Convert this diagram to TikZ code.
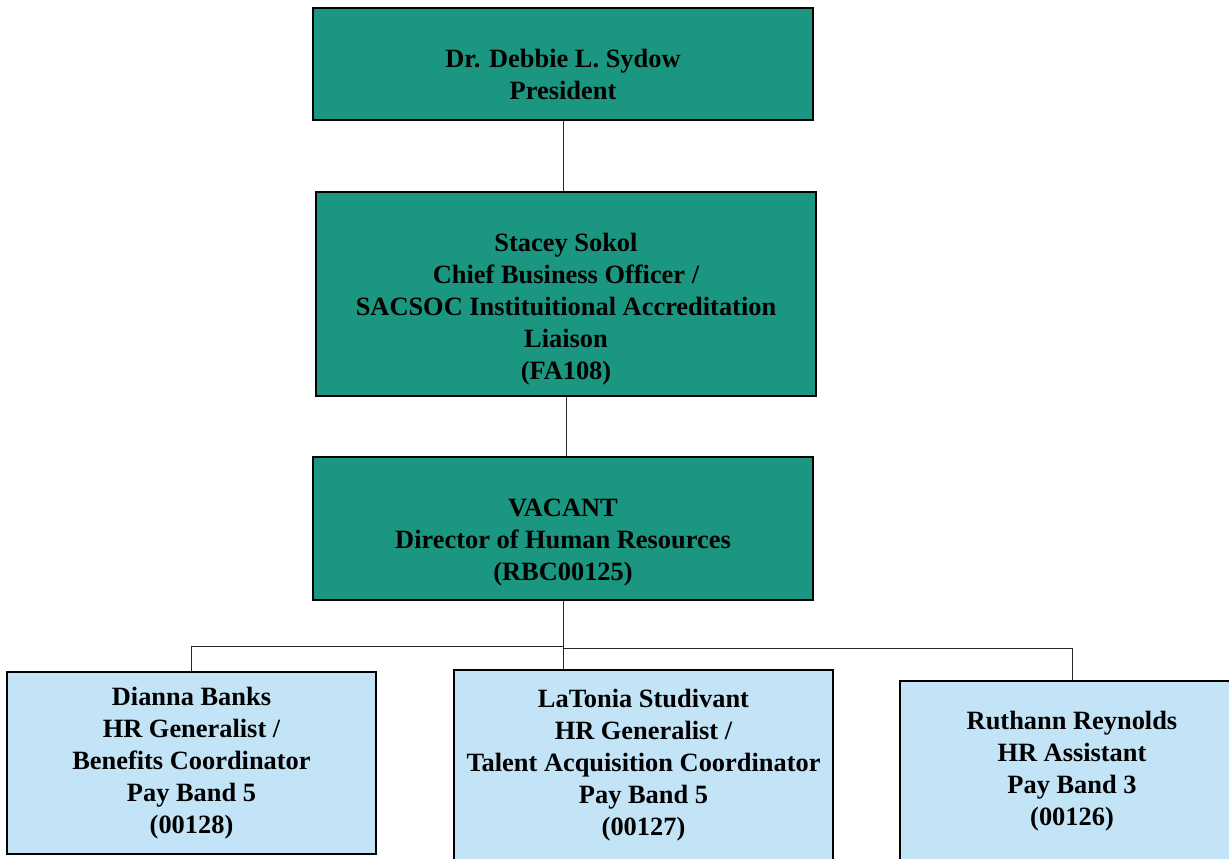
\documentclass[tikz,border=0pt]{standalone}
\usepackage{fontspec}
\setmainfont{Liberation Serif}
\definecolor{presteal}{RGB}{27,150,128}
\definecolor{staffblue}{RGB}{194,228,246}
\tikzset{
	box/.style={draw=black, line width=2pt, inner sep=0pt},
	lead/.style={box, fill=presteal},
	staff/.style={box, fill=staffblue},
	txt/.style={align=center, font=\fontsize{26.4}{32}\selectfont\bfseries, inner sep=0pt},
	link/.style={draw=black!85, line width=1pt}
}
\begin{document}
\begin{tikzpicture}[x=1pt,y=-1pt]
	\useasboundingbox (0,0) rectangle (1229,859);
	\clip (0,0) rectangle (1229,859);
	\node[lead, minimum width=500pt, minimum height=112pt, label={[txt, yshift=-10pt]center:{Dr. Debbie L. Sydow\\President}}] (pres) at (563,64) {};
	\node[lead, minimum width=500pt, minimum height=204pt, label={[txt, yshift=-15pt]center:{Stacey Sokol\\Chief Business Officer /\\SACSOC Instituitional Accreditation\\Liaison\\(FA108)}}] (cbo) at (566,294) {};
	\node[lead, minimum width=500pt, minimum height=143pt, label={[txt, yshift=-14pt]center:{VACANT\\Director of Human Resources\\(RBC00125)}}] (dir) at (563,528.5) {};
	\node[staff, minimum width=369pt, minimum height=182pt, label={[txt]center:{Dianna Banks\\HR Generalist /\\Benefits Coordinator\\Pay Band 5\\(00128)}}] (banks) at (191.5,763) {};
	\node[staff, minimum width=379pt, minimum height=200pt, label={[txt, yshift=5pt]center:{LaTonia Studivant\\HR Generalist /\\Talent Acquisition Coordinator\\Pay Band 5\\(00127)}}] (studivant) at (643.5,770) {};
	\node[staff, minimum width=344pt, minimum height=189pt, label={[txt, yshift=4.5pt]center:{Ruthann Reynolds\\HR Assistant\\Pay Band 3\\(00126)}}] (reynolds) at (1072,775.5) {};
	% reporting lines
	\coordinate (split) at (563,646);
	\coordinate (splitr) at (563,648);
	\draw[link] (pres.south) -- (pres.south |- cbo.north);
	\draw[link] (cbo.south) -- (cbo.south |- dir.north);
	\draw[link] (dir.south) -- (split) -| (banks.north);
	\draw[link] (splitr) -| (reynolds.north);
	\draw[link] (dir.south) -- (dir.south |- studivant.north);
\end{tikzpicture}
\end{document}
